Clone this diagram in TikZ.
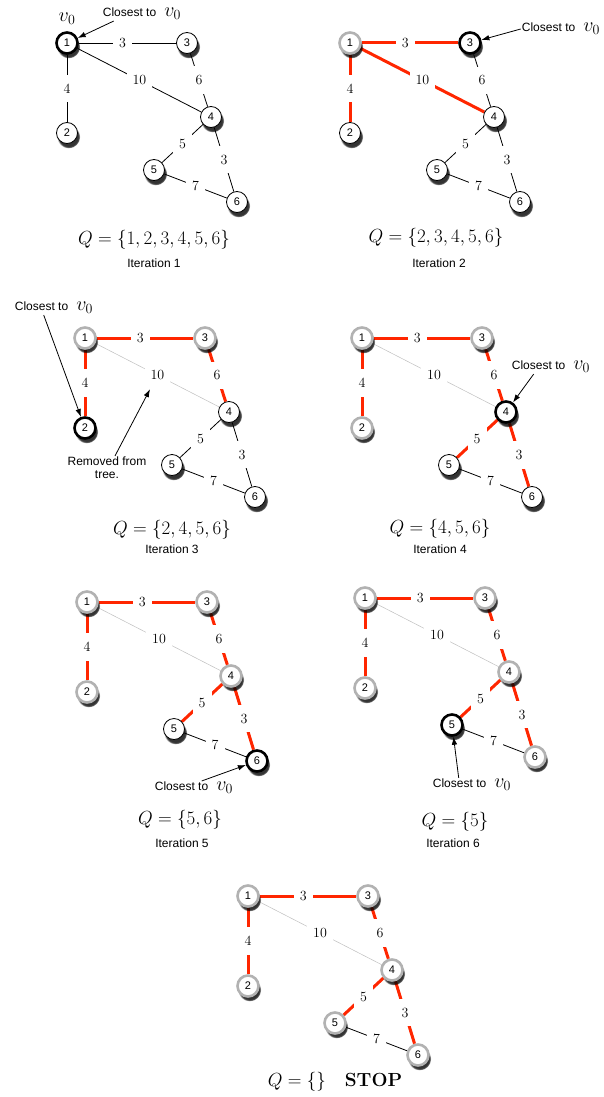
\RequirePackage{fix-cm}
\documentclass[tikz,border=0pt]{standalone}
\usepackage{amsmath}
\usepackage{fontspec}
\setsansfont{Liberation Sans}
\usepackage{tikz}
\usetikzlibrary{positioning,shadows,backgrounds,arrows.meta}
\definecolor{treered}{RGB}{255,38,0}

\tikzset{
    vert/.style={circle, draw=black, line width=0.8pt, fill=white, minimum size=21pt, inner sep=0pt,
        font=\sffamily\fontsize{11}{11}\selectfont,
        circular drop shadow={shadow xshift=1.5pt, shadow yshift=-3.5pt, opacity=0.8, fill=black}},
    visited/.style={draw=black!30, line width=2.6pt},
    closest/.style={draw=black, line width=2.6pt},
    link/.style={draw=black, line width=0.8pt},
    tree/.style={draw=treered, line width=3pt},
    dropped/.style={draw=black!25, line width=0.5pt},
    wt/.style={fill=white, inner xsep=6pt, inner ysep=9pt, font=\fontsize{14}{14}\selectfont},
    note/.style={font=\sffamily\fontsize{12}{13}\selectfont, inner sep=1pt, align=center},
    pointer/.style={-{Latex[length=8pt,width=5.5pt]}, line width=0.8pt},
    qset/.style={font=\fontsize{19}{21}\selectfont},
    iter/.style={font=\sffamily\fontsize{12}{13}\selectfont},
    nd1/.style={}, nd2/.style={}, nd3/.style={}, nd4/.style={}, nd5/.style={}, nd6/.style={},
    ed12/.style=link, ed13/.style=link, ed14/.style=link, ed34/.style=link,
    ed45/.style=link, ed46/.style=link, ed56/.style=link,
    treeedges/.style={ed12/.style=tree, ed13/.style=tree, ed14/.style=dropped,
        ed34/.style=tree, ed45/.style=tree, ed46/.style=tree}
}

% the graph, node 1 at the origin of the scope
\newcommand{\prim}[1]{%
    \node[vert, nd1] (#1n1) at (0,0) {1};
    \node[vert, nd2] (#1n2) at (0,90) {2};
    \node[vert, nd3] (#1n3) at (120,0) {3};
    \node[vert, nd4] (#1n4) at (144,74) {4};
    \node[vert, nd5] (#1n5) at (87,127) {5};
    \node[vert, nd6] (#1n6) at (170,159) {6};
    \begin{scope}[on background layer]
        \draw[ed12] (#1n1) -- node[wt] (#1w12) {4} (#1n2);
        \draw[ed13] (#1n1) -- node[wt, pos=0.45] (#1w13) {3} (#1n3);
        \draw[ed14] (#1n1) -- node[wt] (#1w14) {10} (#1n4);
        \draw[ed34] (#1n3) -- node[wt] (#1w34) {6} (#1n4);
        \draw[ed45] (#1n4) -- node[wt] (#1w45) {5} (#1n5);
        \draw[ed46] (#1n4) -- node[wt] (#1w46) {3} (#1n6);
        \draw[ed56] (#1n5) -- node[wt] (#1w56) {7} (#1n6);
    \end{scope}
}

\begin{document}
\begin{tikzpicture}[x=1pt, y=-1pt]
    \useasboundingbox (0,0) rectangle (603,1097);

    % iteration 1
    \begin{scope}[shift={(67,43)}, nd1/.style=closest]
        \prim{a}
    \end{scope}
    \node[above=3pt of an1, font=\fontsize{20}{20}\selectfont] (av0) {$v_0$};
    \node[note] (ac) at (142,14) {Closest to\hspace{8pt}{\fontsize{20}{20}\selectfont$v_0$}};
    \draw[pointer] ([xshift=12pt]ac.south west) -- (an1);
    \node[qset] (aq) at (154,240) {$Q=\{1,2,3,4,5,6\}$};
    \node[iter] (ai) at (154,263) {Iteration 1};

    % iteration 2
    \begin{scope}[shift={(350,43)}, nd1/.style=visited, nd3/.style=closest,
            ed12/.style=tree, ed13/.style=tree, ed14/.style=tree]
        \prim{b}
    \end{scope}
    \node[note] (bc) at (561,29) {Closest to\hspace{8pt}{\fontsize{20}{20}\selectfont$v_0$}};
    \draw[pointer] (bc.west) -- (bn3);
    \node[qset] (bq) at (436,238) {$Q=\{2,3,4,5,6\}$};
    \node[iter] (bi) at (439,263) {Iteration 2};

    % iteration 3
    \begin{scope}[shift={(85,338)}, nd1/.style=visited, nd3/.style=visited, nd2/.style=closest,
            ed12/.style=tree, ed13/.style=tree, ed34/.style=tree, ed14/.style=dropped]
        \prim{c}
    \end{scope}
    \node[note] (cc) at (54,308) {Closest to\hspace{8pt}{\fontsize{20}{20}\selectfont$v_0$}};
    \draw[pointer] ([xshift=30pt]cc.south west) -- (cn2);
    \node[note] (cr) at (107,468) {Removed from\\tree.};
    \draw[pointer] ([xshift=8pt]cr.north) -- (cw14);
    \node[qset] (cq) at (172,530) {$Q=\{2,4,5,6\}$};
    \node[iter] (ci) at (172,549) {Iteration 3};

    % iteration 4
    \begin{scope}[shift={(362,338)}, treeedges, nd1/.style=visited, nd2/.style=visited,
            nd3/.style=visited, nd4/.style=closest]
        \prim{d}
    \end{scope}
    \node[note] (dc) at (551,367) {Closest to\hspace{8pt}{\fontsize{20}{20}\selectfont$v_0$}};
    \draw[pointer] ([xshift=23pt]dc.south west) -- (dn4);
    \node[qset] (dq) at (440,529) {$Q=\{4,5,6\}$};
    \node[iter] (di) at (440,549) {Iteration 4};

    % iteration 5
    \begin{scope}[shift={(87,602)}, treeedges, nd1/.style=visited, nd2/.style=visited,
            nd3/.style=visited, nd4/.style=visited, nd6/.style=closest]
        \prim{e}
    \end{scope}
    \node[note] (ec) at (194,788) {Closest to\hspace{8pt}{\fontsize{20}{20}\selectfont$v_0$}};
    \draw[pointer] ([xshift=48pt]ec.north west) -- (en6);
    \node[qset] (eq) at (180,820) {$Q=\{5,6\}$};
    \node[iter] (ei) at (182,843) {Iteration 5};

    % iteration 6
    \begin{scope}[shift={(365,598)}, treeedges, nd1/.style=visited, nd2/.style=visited,
            nd3/.style=visited, nd4/.style=visited, nd6/.style=visited, nd5/.style=closest]
        \prim{f}
    \end{scope}
    \node[note] (fc) at (472,785) {Closest to\hspace{8pt}{\fontsize{20}{20}\selectfont$v_0$}};
    \draw[pointer] ([xshift=27pt]fc.north west) -- (fn5);
    \node[qset] (fq) at (455,822) {$Q=\{5\}$};
    \node[iter] (fi) at (453,843) {Iteration 6};

    % done
    \begin{scope}[shift={(248,896)}, treeedges, nd1/.style=visited, nd2/.style=visited,
            nd3/.style=visited, nd4/.style=visited, nd5/.style=visited, nd6/.style=visited]
        \prim{g}
    \end{scope}
    \node[qset] (gq) at (335,1082) {$Q=\{\}$\quad\textbf{STOP}};
\end{tikzpicture}
\end{document}
